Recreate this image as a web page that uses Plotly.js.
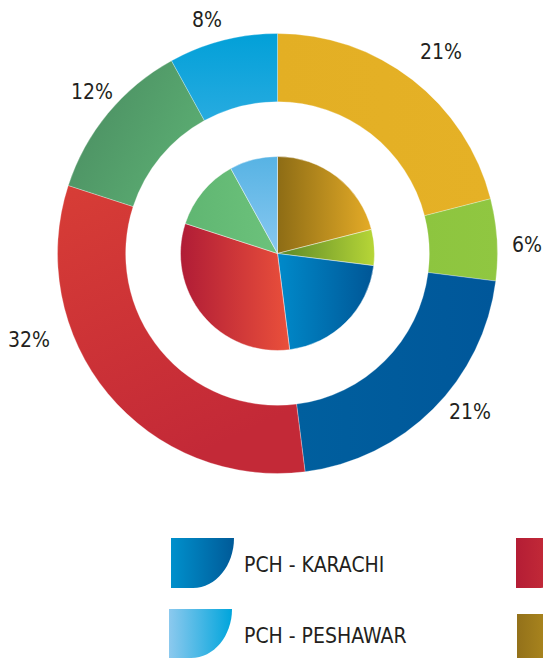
<!DOCTYPE html>
<html><head><meta charset="utf-8">
<script src="https://cdn.plot.ly/plotly-3.0.1.min.js"></script>
<style>html,body{margin:0;padding:0;background:#fff;}#chart{width:543px;height:658px;}</style>
</head><body><div id="chart"></div>
<script>
// ---- data ----
const categories = ['Gold segment', 'Lime segment', 'PCH - KARACHI', 'Red segment', 'Green segment', 'PCH - PESHAWAR'];
const outerValues = [21, 6, 21, 32, 12, 8];
const innerValues = [21, 6, 21, 32, 12, 8];
const legendNames = ['PCH - KARACHI', 'PCH - PESHAWAR'];

// ---- styles / layout ----
const W = 543, H = 658;
const FONT = 'DejaVu Sans Condensed, sans-serif';
const outerColors = ['#E4B024', '#8EC640', '#005C9B', '#CE3237', '#53A068', '#10A4DB'];
const innerColors = ['#B98D1E', '#8DB32F', '#0072B1', '#CC3638', '#66BC78', '#70BDE9'];
const outerGrad = [
  [0, 0, 1, 0, '#E3AF24', '#E5B126'],
  [0, 0, 1, 0, '#8DC53F', '#90C741'],
  [0, 0, 1, 0, '#005F9E', '#00579A'],
  [0, 0, 0.4, 1, '#D73D36', '#C32937'],
  [0, 0.2, 1, 0.8, '#4A8C61', '#5DB174'],
  [0, 0, 0, 1, '#02A0D8', '#27ABE0']
];
const innerGrad = [
  [0, 0, 1, 0, '#8D6C15', '#E4AB27'],
  [0, 0, 1, 0, '#5A8627', '#B7D637'],
  [0, 0, 1, 0, '#008ACA', '#005696'],
  [0, 0, 1, 0, '#B01C36', '#EA503B'],
  [0, 0, 1, 0, '#60B672', '#6CC27B'],
  [0, 0, 0, 1, '#57B3E4', '#88C8F0']
];
const center = [277.5, 253.5], rOuter = 220, rInner = 97, holeFrac = 0.69;
// label centres in pixels (text placement)
const labelPos = [[441, 52], [527, 245], [470, 412], [29, 340], [92, 91.5], [207, 20]];
// legend icons: x, y, w, h, colour-from, colour-to
const legendIcons = [
  [171, 538, 63, 50, '#0090CC', '#005A98'],
  [169, 609, 63, 49, '#8CC9EE', '#00A5DC'],
  [516, 538, 63, 50, '#B41D35', '#D2383A'],
  [517, 614, 63, 50, '#93711A', '#C39C22']
];
const legendText = [[242, 565], [242, 636]];

const px = x => x / W, py = y => 1 - y / H;
function dom(r) {
  return {x: [px(center[0] - r), px(center[0] + r)], y: [py(center[1] + r), py(center[1] - r)]};
}

const data = [
  {type: 'pie', labels: categories, values: outerValues, sort: false, direction: 'clockwise', rotation: 0,
   hole: holeFrac, domain: dom(rOuter), textinfo: 'none', hoverinfo: 'none',
   marker: {colors: outerColors, line: {width: 0.4, color: 'rgba(255,255,255,0.7)'}}, showlegend: false, automargin: false},
  {type: 'pie', labels: categories, values: innerValues, sort: false, direction: 'clockwise', rotation: 0,
   domain: dom(rInner), textinfo: 'none', hoverinfo: 'none',
   marker: {colors: innerColors, line: {width: 0.6, color: 'rgba(255,255,255,0.7)'}}, showlegend: false, automargin: false}
];

const total = outerValues.reduce((a, b) => a + b, 0);
const annotations = outerValues.map((v, i) => ({
  xref: 'paper', yref: 'paper', x: px(labelPos[i][0]), y: py(labelPos[i][1]),
  xanchor: 'center', yanchor: 'middle', showarrow: false,
  text: Math.round(v / total * 100) + '%', font: {family: FONT, size: 21, color: '#231F20'}
}));
legendNames.forEach((n, i) => annotations.push({
  xref: 'paper', yref: 'paper', x: px(legendText[i][0]), y: py(legendText[i][1]),
  xanchor: 'left', yanchor: 'middle', showarrow: false, text: n,
  font: {family: FONT, size: 21, color: '#231F20'}
}));

const k = 0.5523;
const shapes = legendIcons.map(([x, y, w, h]) => {
  const rx = w * 0.65, ry = h;
  const xr = x + w, xb = xr - rx, yb = y + h;
  const p = [
    [x, y], [xr, y],
    [xr, y + ry * k], [xb + rx * k, yb], [xb, yb],
    [x, yb]
  ].map(([a, b]) => [px(a).toFixed(5), py(b).toFixed(5)]);
  return {type: 'path', xref: 'paper', yref: 'paper', line: {width: 0}, fillcolor: '#888',
    path: `M${p[0]} L${p[1]} C${p[2]} ${p[3]} ${p[4]} L${p[5]} Z`};
});

const layout = {
  width: W, height: H, margin: {l: 0, r: 0, t: 0, b: 0},
  paper_bgcolor: '#fff', plot_bgcolor: '#fff', showlegend: false,
  annotations, shapes
};

Plotly.newPlot('chart', data, layout, {staticPlot: true, displayModeBar: false}).then(() => {
  const svg = document.querySelector('#chart svg.main-svg');
  let defs = svg.querySelector('defs');
  const NS = 'http://www.w3.org/2000/svg';
  function grad(id, g) {
    const lg = document.createElementNS(NS, 'linearGradient');
    lg.setAttribute('id', id);
    lg.setAttribute('x1', g[0]); lg.setAttribute('y1', g[1]);
    lg.setAttribute('x2', g[2]); lg.setAttribute('y2', g[3]);
    [[0, g[4]], [1, g[5]]].forEach(([o, c]) => {
      const s = document.createElementNS(NS, 'stop');
      s.setAttribute('offset', o); s.setAttribute('stop-color', c);
      lg.appendChild(s);
    });
    defs.appendChild(lg);
    return 'url(#' + id + ')';
  }
  const traces = document.querySelectorAll('.pielayer .trace');
  [outerGrad, innerGrad].forEach((gs, t) => {
    const paths = traces[t].querySelectorAll('.slice path.surface');
    paths.forEach((p, i) => { p.style.fill = grad('g' + t + '_' + i, gs[i]); });
  });
  const sp = document.querySelectorAll('.shapelayer path');
  sp.forEach((p, i) => {
    const c = legendIcons[i];
    p.style.fill = grad('leg' + i, [0, 0, 1, 0, c[4], c[5]]);
    p.style.fillOpacity = 1;
  });
});
</script>
</body></html>
